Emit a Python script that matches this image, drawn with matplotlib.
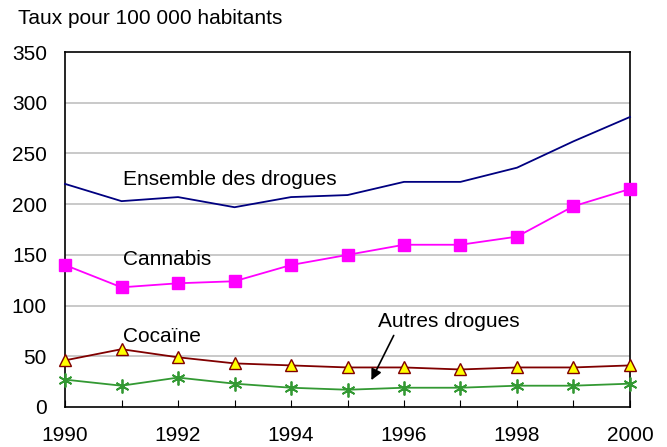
import matplotlib
matplotlib.use("Agg")
import matplotlib.pyplot as plt

plt.rcParams['font.family'] = ['Liberation Sans', 'DejaVu Sans']

# données
annees = [1990, 1991, 1992, 1993, 1994, 1995, 1996, 1997, 1998, 1999, 2000]
ensemble = [220, 203, 207, 197, 207, 209, 222, 222, 236, 262, 286]
cannabis = [140, 118, 122, 124, 140, 150, 160, 160, 168, 198, 215]
cocaine = [46, 57, 49, 43, 41, 39, 39, 37, 39, 39, 41]
autres = [27, 21, 29, 23, 19, 17, 19, 19, 21, 21, 23]
yticks = [0, 50, 100, 150, 200, 250, 300, 350]
xticklabels = [1990, 1992, 1994, 1996, 1998, 2000]

fs = 15  # taille de police

fig = plt.figure(figsize=(6.67, 4.47), dpi=100)
ax = fig.add_axes([0.0975, 0.0895, 0.847, 0.794])

# lignes de grille grises
for v in yticks[1:-1]:
    ax.axhline(v, color='#C0C0C0', lw=1.2, zorder=0)

ax.plot(annees, ensemble, color='#000080', lw=1.3, zorder=3, clip_on=False)
ax.plot(annees, cannabis, color='#FF00FF', lw=1.3, marker='s', markersize=9,
        markerfacecolor='#FF00FF', markeredgecolor='#FF00FF', zorder=3, clip_on=False)
ax.plot(annees, cocaine, color='#800000', lw=1.3, marker='^', markersize=9,
        markerfacecolor='#FFFF00', markeredgecolor='#800000', zorder=3, clip_on=False)
ax.plot(annees, autres, color='#339933', lw=1.3, marker=(6, 2, 0), markersize=10,
        markeredgecolor='#339933', markeredgewidth=1.3, zorder=3, clip_on=False)

ax.set_xlim(1990, 2000)
ax.set_ylim(0, 350)
ax.set_yticks(yticks)
ax.set_xticks(annees)
ax.set_xticklabels([str(a) if a in xticklabels else '' for a in annees])
ax.tick_params(axis='y', length=0, labelsize=fs, pad=13)
ax.tick_params(axis='x', direction='in', length=5, labelsize=fs, pad=14)
for s in ax.spines.values():
    s.set_linewidth(1.2)
    s.set_color('black')

ax.text(1991.03, 219, 'Ensemble des drogues', fontsize=fs, va='baseline', ha='left')
ax.text(1991.03, 140, 'Cannabis', fontsize=fs, va='baseline', ha='left')
ax.text(1991.03, 64, 'Cocaïne', fontsize=fs, va='baseline', ha='left')
ax.text(1995.54, 79, 'Autres drogues', fontsize=fs, va='baseline', ha='left')
ax.annotate('', xy=(1995.40, 24), xytext=(1995.84, 73),
            arrowprops=dict(arrowstyle='-|>', color='black', lw=1.2, mutation_scale=16))

fig.text(18 / 667, 1 - 18 / 447, 'Taux pour 100 000 habitants', fontsize=fs, va='center', ha='left')

fig.savefig('out.png', dpi=100)
